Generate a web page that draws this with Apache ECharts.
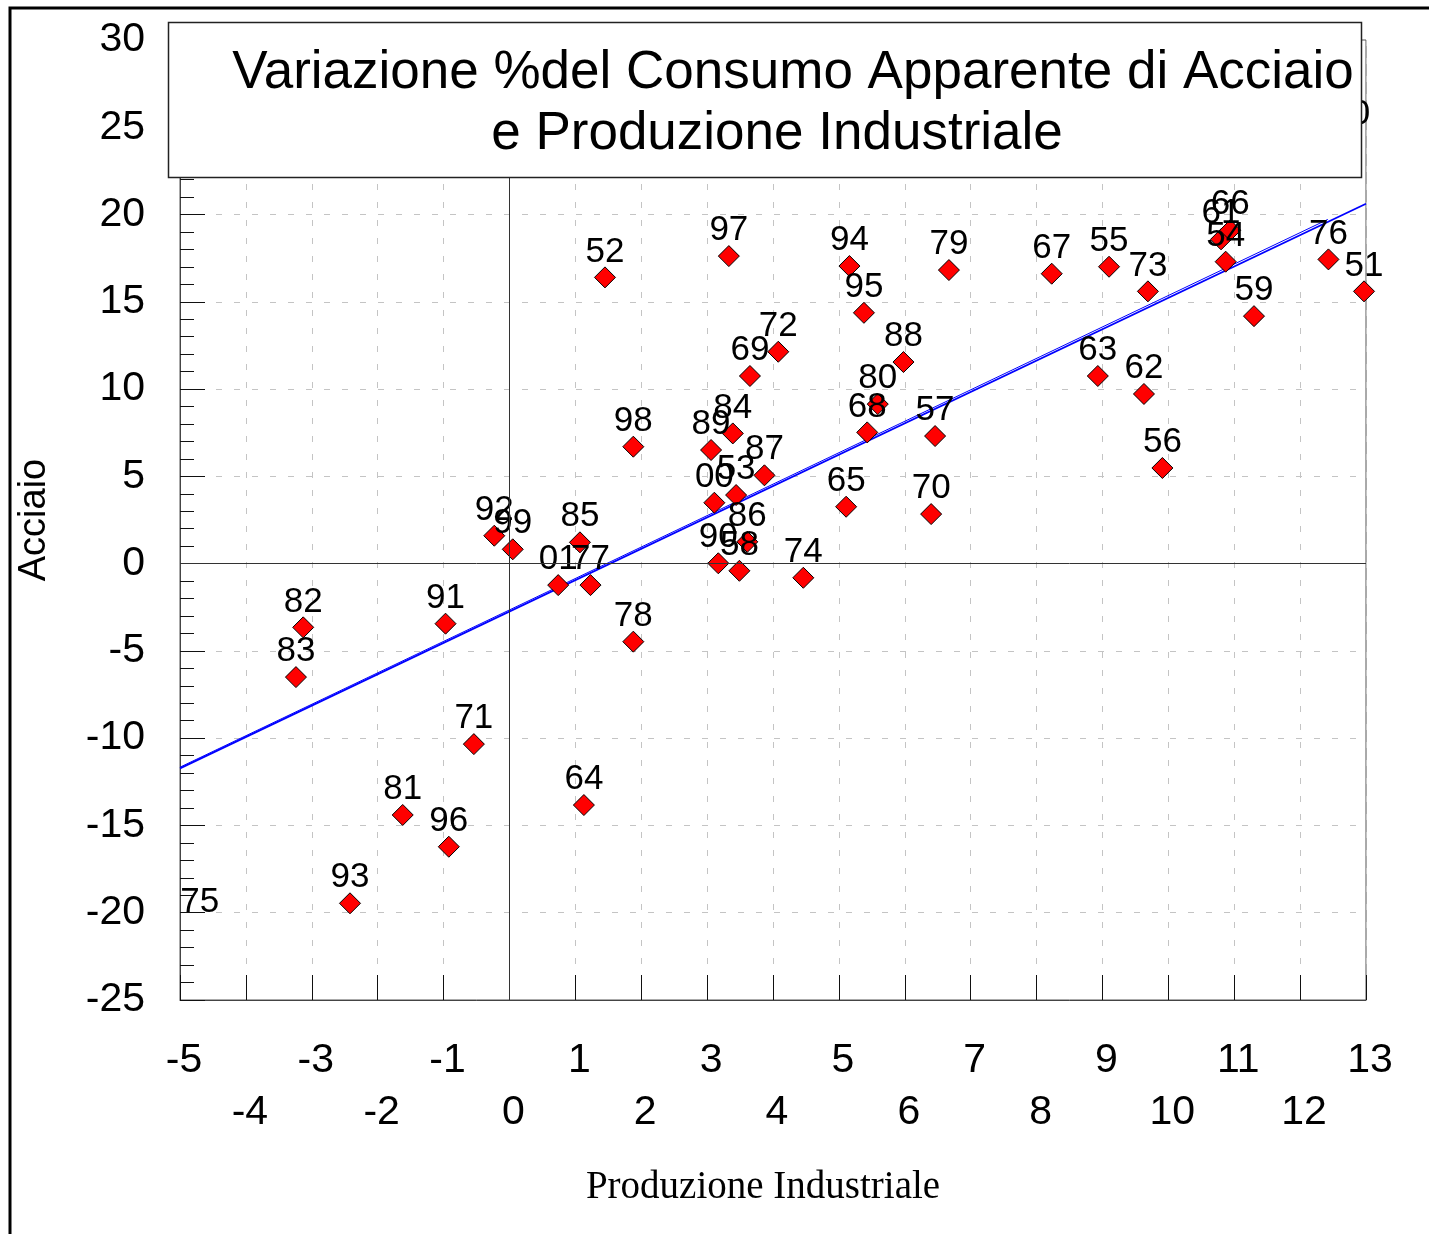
<!DOCTYPE html>
<html>
<head>
<meta charset="utf-8">
<script src="https://cdn.jsdelivr.net/npm/echarts@6/dist/echarts.min.js"></script>
<style>
  html, body { margin: 0; padding: 0; background: #fff; }
  #chart { width: 1429px; height: 1234px; }
</style>
</head>
<body>
<div id="chart"></div>
<script>
// anni (etichette dei punti)
const years = ['51', '52', '53', '54', '55', '56', '57', '58', '59', '60',
  '61', '62', '63', '64', '65', '66', '67', '68', '69', '70',
  '71', '72', '73', '74', '76', '77', '78', '79', '80', '81',
  '82', '83', '84', '85', '86', '87', '88', '89', '90', '91',
  '92', '93', '94', '95', '96', '97', '98', '99', '00', '01']

// variazione % produzione industriale (asse x)
const prodInd = [12.97, 1.45, 3.44, 10.87, 9.10, 9.91, 6.46, 3.49, 11.30, 12.77,
  10.80, 9.63, 8.93, 1.13, 5.11, 10.94, 8.23, 5.43, 3.65, 6.40,
  -0.54, 4.08, 9.69, 4.46, 12.43, 1.23, 1.88, 6.67, 5.59, -1.62,
  -3.13, -3.24, 3.39, 1.07, 3.61, 3.87, 5.98, 3.06, 3.17, -0.97,
  -0.23, -2.42, 5.16, 5.38, -0.92, 3.33, 1.88, 0.05, 3.11, 0.74]

// variazione % consumo apparente di acciaio (asse y)
const acciaio = [15.60, 16.40, 3.93, 17.30, 17.01, 5.48, 7.31, -0.41, 14.18, 24.30,
  18.58, 9.72, 10.75, -13.83, 3.26, 19.10, 16.61, 7.52, 10.75, 2.84,
  -10.34, 12.14, 15.60, -0.81, 17.43, -1.23, -4.47, 16.82, 9.14, -14.40,
  -3.65, -6.50, 7.46, 1.22, 1.25, 5.06, 11.55, 6.51, 0.02, -3.44,
  1.60, -19.46, 17.05, 14.37, -16.22, 17.62, 6.70, 0.82, 3.49, -1.23]

// 1975 e' fuori scala: resta solo l'etichetta sul bordo sinistro
const outYears = ['75']
const outX = [-4.70]
const outY = [-20.25]

// retta di regressione
const fitX = [-5, 13]
const fitY = [-11.73, 20.62]
const fitX2 = [-5, 12.42]
const fitY2 = [-11.66, 19.72]

const xTicks = { min: -5, max: 13, step: 1 }
const yTicks = { min: -25, max: 30, step: 5 }

const SANS = '"Liberation Sans", Arial, sans-serif'
const SERIF = '"Liberation Serif", "Times New Roman", serif'

const chart = echarts.init(document.getElementById('chart'), null, { renderer: 'canvas' })

const points = years.map((y, i) => ({ name: y, value: [prodInd[i], acciaio[i]] }))
const outPoints = outYears.map((y, i) => ({ name: y, value: [outX[i], outY[i]] }))

const dashed = { show: true, lineStyle: { color: '#c4c4c4', type: [6, 12], width: 1 } }
const pointLabel = {
  show: true, position: 'top', distance: -3,
  formatter: p => p.name,
  color: '#000', fontFamily: SANS, fontSize: 35
}

chart.setOption({
  animation: false,
  backgroundColor: '#fff',
  grid: {
    left: 180, top: 40, width: 1186, height: 960,
    show: true, borderColor: '#555', borderWidth: 1, backgroundColor: 'transparent'
  },
  xAxis: {
    type: 'value',
    min: xTicks.min, max: xTicks.max, interval: xTicks.step,
    axisLine: { show: true, onZero: false, lineStyle: { color: '#444', width: 1 } },
    axisTick: { show: true, inside: true, length: 25, lineStyle: { color: '#111', width: 1 } },
    splitLine: dashed,
    axisLabel: {
      interval: 0, showMinLabel: true, showMaxLabel: true,
      color: '#000', fontFamily: SANS, fontSize: 41, lineHeight: 52, margin: 35,
      padding: [0, 0, 0, 8],
      formatter: v => (Math.round(v) % 2 === 0 ? '\n' + v : String(v))
    }
  },
  yAxis: {
    type: 'value',
    min: yTicks.min, max: yTicks.max, interval: yTicks.step,
    axisLine: { show: true, onZero: false, lineStyle: { color: '#444', width: 1 } },
    axisTick: { show: true, inside: true, length: 25, lineStyle: { color: '#111', width: 1 } },
    minorTick: { show: true, splitNumber: 5, length: 14, lineStyle: { color: '#111', width: 1 } },
    splitLine: dashed,
    axisLabel: { color: '#000', fontFamily: SANS, fontSize: 41, margin: 35 }
  },
  series: [
    {
      name: 'regressione',
      type: 'line',
      data: fitX.map((x, i) => [x, fitY[i]]),
      symbol: 'none',
      lineStyle: { color: '#0000ff', width: 1.8 },
      z: 3,
      markLine: {
        silent: true,
        symbol: 'none',
        label: { show: false },
        lineStyle: { color: '#333', width: 1, type: 'solid' },
        data: [{ xAxis: 0 }, { yAxis: 0 }]
      }
    },
    {
      name: 'regressione 2',
      type: 'line',
      data: fitX2.map((x, i) => [x, fitY2[i]]),
      symbol: 'none',
      lineStyle: { color: '#0000ff', width: 1 },
      z: 3
    },
    {
      name: 'anni',
      type: 'scatter',
      data: points,
      symbol: 'diamond',
      symbolSize: 21,
      itemStyle: { color: '#ff0000', borderColor: '#000', borderWidth: 1, opacity: 1 },
      label: pointLabel,
      z: 4
    },
    {
      name: 'fuori scala',
      type: 'scatter',
      data: outPoints,
      symbol: 'circle',
      symbolSize: 1,
      itemStyle: { color: 'rgba(0,0,0,0)', borderWidth: 0, opacity: 1 },
      label: pointLabel,
      z: 4
    }
  ],
  graphic: [
    {
      type: 'polyline', z: 200, silent: true,
      shape: { points: [[10, 1234], [10, 8], [1429, 8]] },
      style: { stroke: '#000', lineWidth: 3, fill: null }
    },
    {
      type: 'rect', z: 100, silent: true,
      shape: { x: 168.5, y: 22.5, width: 1193, height: 155 },
      style: { fill: '#fff', stroke: '#222', lineWidth: 1.5 }
    },
    {
      type: 'text', z: 101, silent: true, x: 793, y: 73,
      style: { text: 'Variazione %del Consumo Apparente di Acciaio', font: '53px ' + SANS, fill: '#000', align: 'center', verticalAlign: 'middle' }
    },
    {
      type: 'text', z: 101, silent: true, x: 777, y: 134,
      style: { text: 'e Produzione Industriale', font: '53px ' + SANS, fill: '#000', align: 'center', verticalAlign: 'middle' }
    },
    {
      type: 'text', z: 101, silent: true, x: 35, y: 520, rotation: Math.PI / 2,
      style: { text: 'Acciaio', font: '38px ' + SANS, fill: '#000', align: 'center', verticalAlign: 'middle' }
    },
    {
      type: 'text', z: 101, silent: true, x: 763, y: 1188,
      style: { text: 'Produzione Industriale', font: '39px ' + SERIF, fill: '#000', align: 'center', verticalAlign: 'middle' }
    }
  ]
})
</script>
</body>
</html>
